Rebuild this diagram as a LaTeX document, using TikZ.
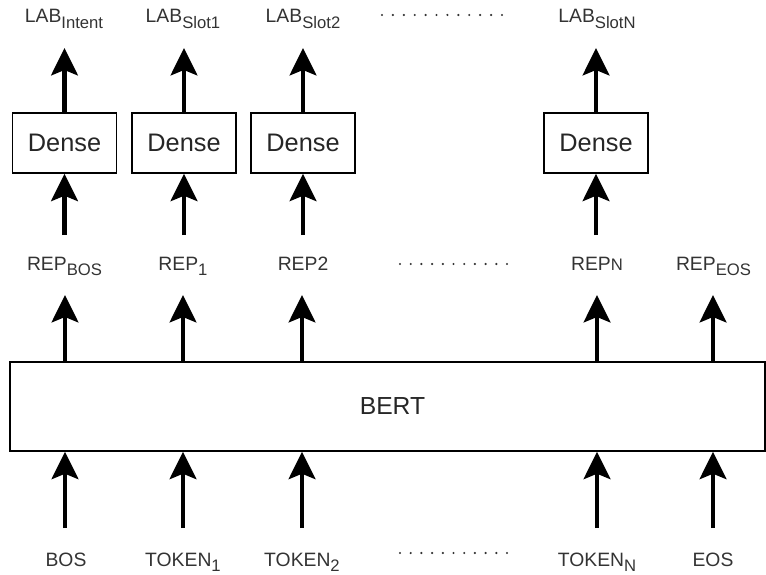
\documentclass[tikz,border=0pt]{standalone}
\usepackage{fontspec}
\setmainfont{Liberation Sans}
\usetikzlibrary{arrows.meta}
\begin{document}
\begin{tikzpicture}[x=0.75pt,y=-0.75pt,
  arr/.style={line width=3.2pt,-{Stealth[length=20.5pt,width=20pt,inset=4pt]}},
  densebox/.style={draw,line width=1.1pt,minimum width=78pt,minimum height=45pt,inner sep=0pt,font=\fontsize{19}{22}\selectfont,text=black!85},
  bertbox/.style={draw,line width=1.1pt,minimum width=566.25pt,minimum height=66.75pt,inner sep=0pt,font=\fontsize{18.5}{21}\selectfont,text=black!85},
  lab/.style={inner sep=0pt,text height=0pt,text depth=0pt,anchor=base,font=\fontsize{14.5}{17}\selectfont,text=black!80},
  blab/.style={lab,font=\fontsize{14.5}{17}\selectfont},
  dots/.style={line width=1.8pt,line cap=round,draw=black!80}
]
\newcommand{\sbs}[1]{\raisebox{-3.8pt}{\fontsize{12.5}{13}\selectfont #1}}
\useasboundingbox (0,0) rectangle (766,574);

% top labels
\node[lab] (l1) at (64,23) {LAB\sbs{Intent}};
\node[lab] (l2) at (183,23) {LAB\sbs{Slot1}};
\node[lab] (l3) at (303,23) {LAB\sbs{Slot2}};
\node[lab] (l4) at (597,23) {LAB\sbs{SlotN}};

% dense boxes
\node[densebox] (d1) at (64.5,143) {Dense};
\node[densebox] (d2) at (184,143) {Dense};
\node[densebox] (d3) at (303,143) {Dense};
\node[densebox] (d4) at (596,143) {Dense};

% representation labels
\node[lab] (r1) at (64.5,270) {REP\sbs{BOS}};
\node[lab] (r2) at (183,270) {REP\sbs{1}};
\node[lab] (r3) at (303,270) {REP2};
\node[lab] (r4) at (597,270) {REP{\fontsize{12.5}{13}\selectfont N}};
\node[lab] (r5) at (713.5,270) {REP\sbs{EOS}};

% BERT
\node[bertbox] (bert) at (387.5,406.5) {\hspace*{7.5pt}BERT};

% bottom labels
\node[blab] (b1) at (66,566) {BOS};
\node[blab] (b2) at (183,566) {TOKEN\sbs{1}};
\node[blab] (b3) at (302,566) {TOKEN\sbs{2}};
\node[blab] (b4) at (597,566) {TOKEN\sbs{N}};
\node[blab] (b5) at (713,566) {EOS};

% arrows dense -> labels
\foreach \d/\l in {d1/l1,d2/l2,d3/l3,d4/l4}
  \draw[arr,shorten >=18.75pt] (\d.north) -- (\d.north |- \l.base);
% arrows rep -> dense
\foreach \r/\d in {r1/d1,r2/d2,r3/d3,r4/d4}
  \draw[arr,shorten <=26.25pt] (\d.south |- \r.base) -- (\d.south);
% arrows bert -> rep
\foreach \r/\x in {r1/65,r2/183,r3/302,r4/597,r5/713}
  \draw[arr,shorten >=18.75pt] (bert.north -| \x,0) -- (\x,0 |- \r.base);
% arrows tokens -> bert
\foreach \b/\x in {b1/65,b2/183,b3/302,b4/597,b5/713}
  \draw[arr,shorten <=28.5pt] (\x,0 |- \b.base) -- (bert.south -| \x,0);

% dots
\draw[dots,dash pattern=on 0pt off 8.18pt] (382,15) -- (502,15);
\draw[dots,dash pattern=on 0pt off 8.025pt] (400,264) -- (507,264);
\draw[dots,dash pattern=on 0pt off 8.025pt] (400,553) -- (507,553);
\end{tikzpicture}
\end{document}
